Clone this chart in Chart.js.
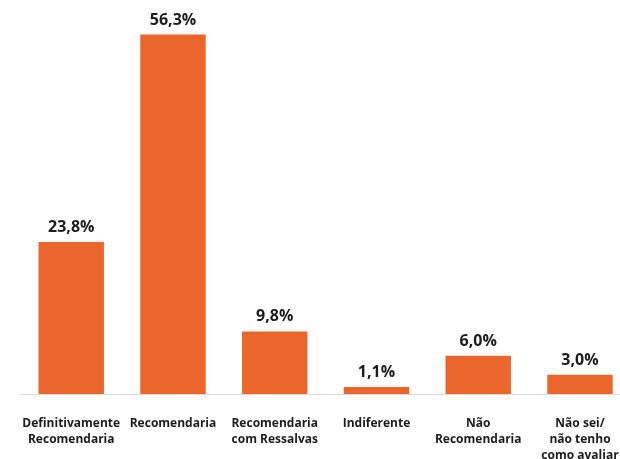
<!DOCTYPE html>
<html>
<head>
<meta charset="utf-8">
<script src="https://cdn.jsdelivr.net/npm/chart.js@4.4.1/dist/chart.umd.min.js"></script>
<style>
  html, body { margin: 0; padding: 0; background: #fff; overflow: hidden; }
  #wrap { position: relative; width: 640px; height: 459px; }
</style>
</head>
<body>
<div id="wrap"><canvas id="chart"></canvas></div>
<script>
// Answer categories (multi-line labels)
const categories = [
  ["Definitivamente", "Recomendaria"],
  ["Recomendaria"],
  ["Recomendaria", "com Ressalvas"],
  ["Indiferente"],
  ["Não", "Recomendaria"],
  ["Não sei/", "não tenho", "como avaliar"]
];
// Share of respondents, in percent
const shares = [23.8, 56.3, 9.8, 1.1, 6.0, 3.0];

const barColor = "#EB662C";

// Writes the percentage above each bar, Brazilian style (comma decimal)
const valueLabels = {
  id: "valueLabels",
  afterDatasetsDraw(chart) {
    const { ctx } = chart;
    const meta = chart.getDatasetMeta(0);
    ctx.save();
    ctx.font = "bold 16px 'Open Sans', sans-serif";
    ctx.fillStyle = "#1c1c1c";
    ctx.textAlign = "center";
    ctx.textBaseline = "alphabetic";
    meta.data.forEach((bar, i) => {
      const txt = shares[i].toFixed(1).replace(".", ",") + "%";
      ctx.fillText(txt, bar.x, bar.y - 10);
    });
    ctx.restore();
  }
};

new Chart(document.getElementById("chart"), {
  type: "bar",
  data: {
    labels: categories,
    datasets: [{
      data: shares,
      backgroundColor: barColor,
      borderWidth: 0,
      barPercentage: 0.643,
      categoryPercentage: 1.0
    }]
  },
  options: {
    responsive: true,
    maintainAspectRatio: false,
    animation: false,
    layout: { padding: { left: 17, right: 8, top: 11, bottom: 0 } },
    plugins: {
      legend: { display: false },
      tooltip: { enabled: false }
    },
    scales: {
      x: {
        grid: { display: false, drawTicks: false },
        border: { display: true, color: "#dcdcdc", width: 1 },
        afterFit(scale) { scale.height = 65; },
        ticks: {
          color: "#1c1c1c",
          padding: 21,
          maxRotation: 0,
          autoSkip: false,
          font: { family: "'Open Sans', sans-serif", size: 12, weight: "bold", lineHeight: 1.35 }
        }
      },
      y: {
        display: false,
        min: 0,
        max: 60
      }
    }
  },
  plugins: [valueLabels]
});
</script>
</body>
</html>
